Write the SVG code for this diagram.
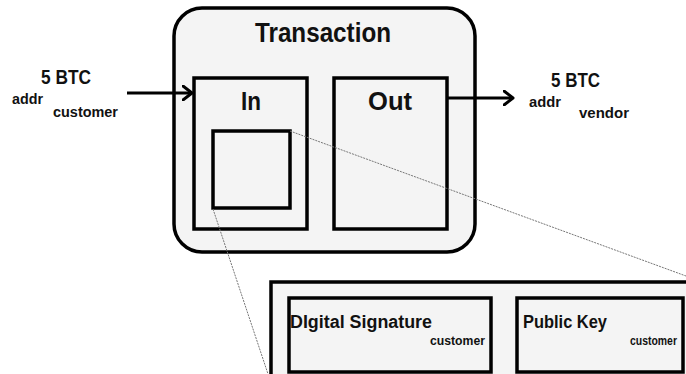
<svg xmlns="http://www.w3.org/2000/svg" width="686" height="374" viewBox="0 0 686 374">
  <defs>
    <marker id="chevron" viewBox="0 0 12 16" refX="10" refY="8" markerWidth="12" markerHeight="16" markerUnits="userSpaceOnUse" orient="auto">
      <path d="M1,1 L10,8 L1,15" fill="none" stroke="#000" stroke-width="3" stroke-linecap="round" stroke-linejoin="round"/>
    </marker>
  </defs>
  <style>
    .box { fill: #f4f4f4; stroke: #000; stroke-width: 3.5; }
    .t { font-family: "Liberation Sans", Arial, sans-serif; font-weight: bold; fill: #111; }
    .flow { stroke: #000; stroke-width: 3; fill: none; }
    .zoomline { stroke: #777; stroke-width: 1; stroke-dasharray: 2 1; fill: none; }
  </style>
  <rect width="686" height="374" fill="#fff"/>

  <g id="transaction">
    <rect class="box" x="174" y="8" width="301" height="244" rx="28"/>
    <text class="t" x="323" y="42" font-size="28" text-anchor="middle" textLength="136" lengthAdjust="spacingAndGlyphs">Transaction</text>
  </g>

  <g id="in">
    <rect class="box" x="194" y="78" width="113" height="151"/>
    <text class="t" x="251" y="110" font-size="25" text-anchor="middle" textLength="20" lengthAdjust="spacingAndGlyphs">In</text>
  </g>

  <g id="input-detail">
    <rect class="box" x="213" y="131" width="77" height="77"/>
  </g>

  <g id="out">
    <rect class="box" x="334" y="78" width="113" height="151"/>
    <text class="t" x="390" y="110" font-size="25" text-anchor="middle" textLength="44" lengthAdjust="spacingAndGlyphs">Out</text>
  </g>

  <g id="source">
    <text class="t" x="41" y="84" font-size="20" textLength="50" lengthAdjust="spacingAndGlyphs">5 BTC</text>
    <text class="t" x="12" y="104" font-size="14" textLength="31" lengthAdjust="spacingAndGlyphs">addr</text>
    <text class="t" x="53" y="117" font-size="14" textLength="65" lengthAdjust="spacingAndGlyphs">customer</text>
  </g>

  <g id="destination">
    <text class="t" x="551" y="87" font-size="20" textLength="49" lengthAdjust="spacingAndGlyphs">5 BTC</text>
    <text class="t" x="529" y="107" font-size="14" textLength="32" lengthAdjust="spacingAndGlyphs">addr</text>
    <text class="t" x="579" y="118" font-size="14" textLength="50" lengthAdjust="spacingAndGlyphs">vendor</text>
  </g>

  <g id="input-expanded">
    <rect class="box" x="271" y="282" width="430" height="110"/>
  </g>

  <g id="digital-signature">
    <rect class="box" x="289" y="298" width="202" height="74"/>
    <text class="t" x="290" y="328" font-size="18" textLength="142" lengthAdjust="spacingAndGlyphs">DIgital Signature</text>
    <text class="t" x="430" y="345" font-size="12" textLength="55" lengthAdjust="spacingAndGlyphs">customer</text>
  </g>

  <g id="public-key">
    <rect class="box" x="517" y="298" width="166" height="74"/>
    <text class="t" x="523" y="328" font-size="18" textLength="84" lengthAdjust="spacingAndGlyphs">Public Key</text>
    <text class="t" x="630" y="345" font-size="12" textLength="47" lengthAdjust="spacingAndGlyphs">customer</text>
  </g>

  <g id="connectors">
    <line class="flow" x1="127" y1="93" x2="192" y2="93" marker-end="url(#chevron)"/>
    <line class="flow" x1="447" y1="98" x2="513" y2="98" marker-end="url(#chevron)"/>
    <line class="zoomline" x1="290" y1="131" x2="686" y2="276"/>
    <line class="zoomline" x1="213" y1="209" x2="268" y2="374"/>
  </g>
</svg>
